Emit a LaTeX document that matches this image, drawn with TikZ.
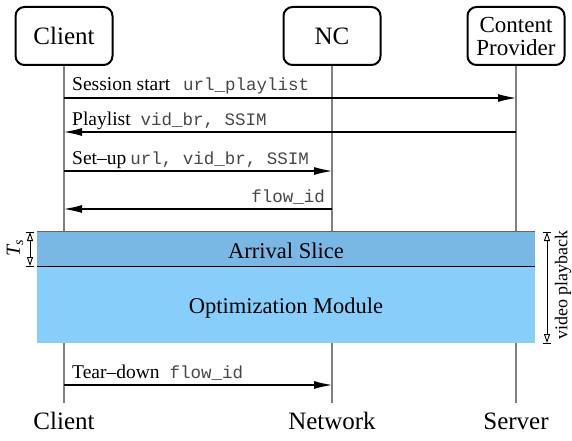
\documentclass[tikz,border=0pt]{standalone}
\usepackage{fontspec}
\setmainfont{Liberation Serif}
\setmonofont{Liberation Mono}
\usetikzlibrary{arrows.meta}
\definecolor{arrivalc}{HTML}{79B8E5}
\definecolor{optc}{HTML}{87CEFA}
\newcommand{\mytt}[1]{{\fontsize{17.5}{20}\selectfont\ttfamily\color{black!72}#1}}
\begin{document}
\begin{tikzpicture}[x=1pt,y=-1pt,
  actor/.style={draw, line width=2pt, rounded corners=9pt, minimum width=97pt, minimum height=58pt, align=center, inner sep=0pt},
  life/.style={draw=black!50, line width=1.5pt},
  msg/.style={line width=1.1pt, -{Latex[length=18pt,width=8pt]}},
  lbl/.style={inner sep=0pt, font=\fontsize{19.5}{22}\selectfont},
  dimline/.style={line width=0.9pt, {Triangle[open,length=9pt,width=6pt]}-{Triangle[open,length=9pt,width=6pt]}},
  tick/.style={line width=0.9pt},
  band/.style={inner sep=0pt, minimum width=498pt},
  bandtxt/.style={inner sep=0pt, anchor=base, font=\fontsize{22.5}{26}\selectfont},
  bottom/.style={anchor=base, font=\fontsize{25}{30}\selectfont},
]
\useasboundingbox (0,0) rectangle (572,441);

% actors
\node[actor, font=\fontsize{25}{30}\selectfont] (client) at (64,36) {Client};
\node[actor, font=\fontsize{25}{30}\selectfont] (nc) at (332,36) {NC};
\node[actor, font=\fontsize{23}{23}\selectfont] (cp) at (516,36) {Content\\Provider};

% lifeline ends
\coordinate (cle) at (64,403);
\coordinate (nce) at (332,403);
\coordinate (cpe) at (516,403);
\draw[life] (client.south) -- (cle);
\draw[life] (nc.south) -- (nce);
\draw[life] (cp.south) -- (cpe);

% messages
\coordinate (m1a) at (64,98);  \coordinate (m1b) at (516,98);
\coordinate (m2a) at (516,132); \coordinate (m2b) at (64,132);
\coordinate (m3a) at (64,171); \coordinate (m3b) at (332,171);
\coordinate (m4a) at (332,209); \coordinate (m4b) at (64,209);
\coordinate (m5a) at (64,385); \coordinate (m5b) at (332,385);
\draw[msg] (m1a) -- (m1b);
\draw[msg] (m2a) -- (m2b);
\draw[msg] (m3a) -- (m3b);
\draw[msg] (m4a) -- (m4b);
\draw[msg] (m5a) -- (m5b);

\node[lbl, anchor=base west] (l1) at (72,91) {Session start\hspace{13pt}\mytt{url\_playlist}};
\node[lbl, anchor=base west] (l2) at (72,125) {Playlist\hspace{10pt}\mytt{vid\_br, SSIM}};
\node[lbl, anchor=base west] (l3) at (72,164) {Set--up\hspace{4pt}\mytt{url, vid\_br, SSIM}};
\node[lbl, anchor=base east] (l4) at (325,202) {\mytt{flow\_id}};
\node[lbl, anchor=base west] (l5) at (72,378) {Tear--down\hspace{10pt}\mytt{flow\_id}};

% bands
\node[band, fill=arrivalc, minimum height=34pt] (arr) at (286,249) {};
\node[band, fill=optc, minimum height=77pt] (opt) at (286,304.5) {};
\node[bandtxt] (arrt) at (286,258) {Arrival Slice};
\node[bandtxt] (optt) at (286,313) {Optimization Module};
\draw[black!60, line width=0.7pt] (arr.north west) -- (arr.north east);
\draw[black, line width=1pt] (arr.south west) -- (arr.south east);

% T_s dimension
\coordinate (ts1) at (30,232); \coordinate (ts2) at (30,266);
\draw[tick] ([xshift=-4pt]ts1) -- ([xshift=4pt]ts1);
\draw[tick] ([xshift=-4pt]ts2) -- ([xshift=4pt]ts2);
\draw[dimline] (ts1) -- (ts2);
\node[rotate=90, font=\fontsize{20}{20}\selectfont, inner sep=0pt] (tsl) at (15,248) {\textit{T}\kern-0.5pt\textsubscript{\textit{s}}};

% video playback dimension
\coordinate (vp1) at (547,232); \coordinate (vp2) at (547,343);
\draw[tick] ([xshift=-4pt]vp1) -- ([xshift=4pt]vp1);
\draw[tick] ([xshift=-4pt]vp2) -- ([xshift=4pt]vp2);
\draw[dimline] (vp1) -- (vp2);
\node[rotate=90, font=\fontsize{18}{18}\selectfont, inner sep=0pt] (vpl) at (563,285) {video playback};

% bottom labels
\node[bottom] (bc) at (64,429) {Client};
\node[bottom] (bn) at (332,429) {Network};
\node[bottom] (bs) at (516,429) {Server};
\end{tikzpicture}
\end{document}
